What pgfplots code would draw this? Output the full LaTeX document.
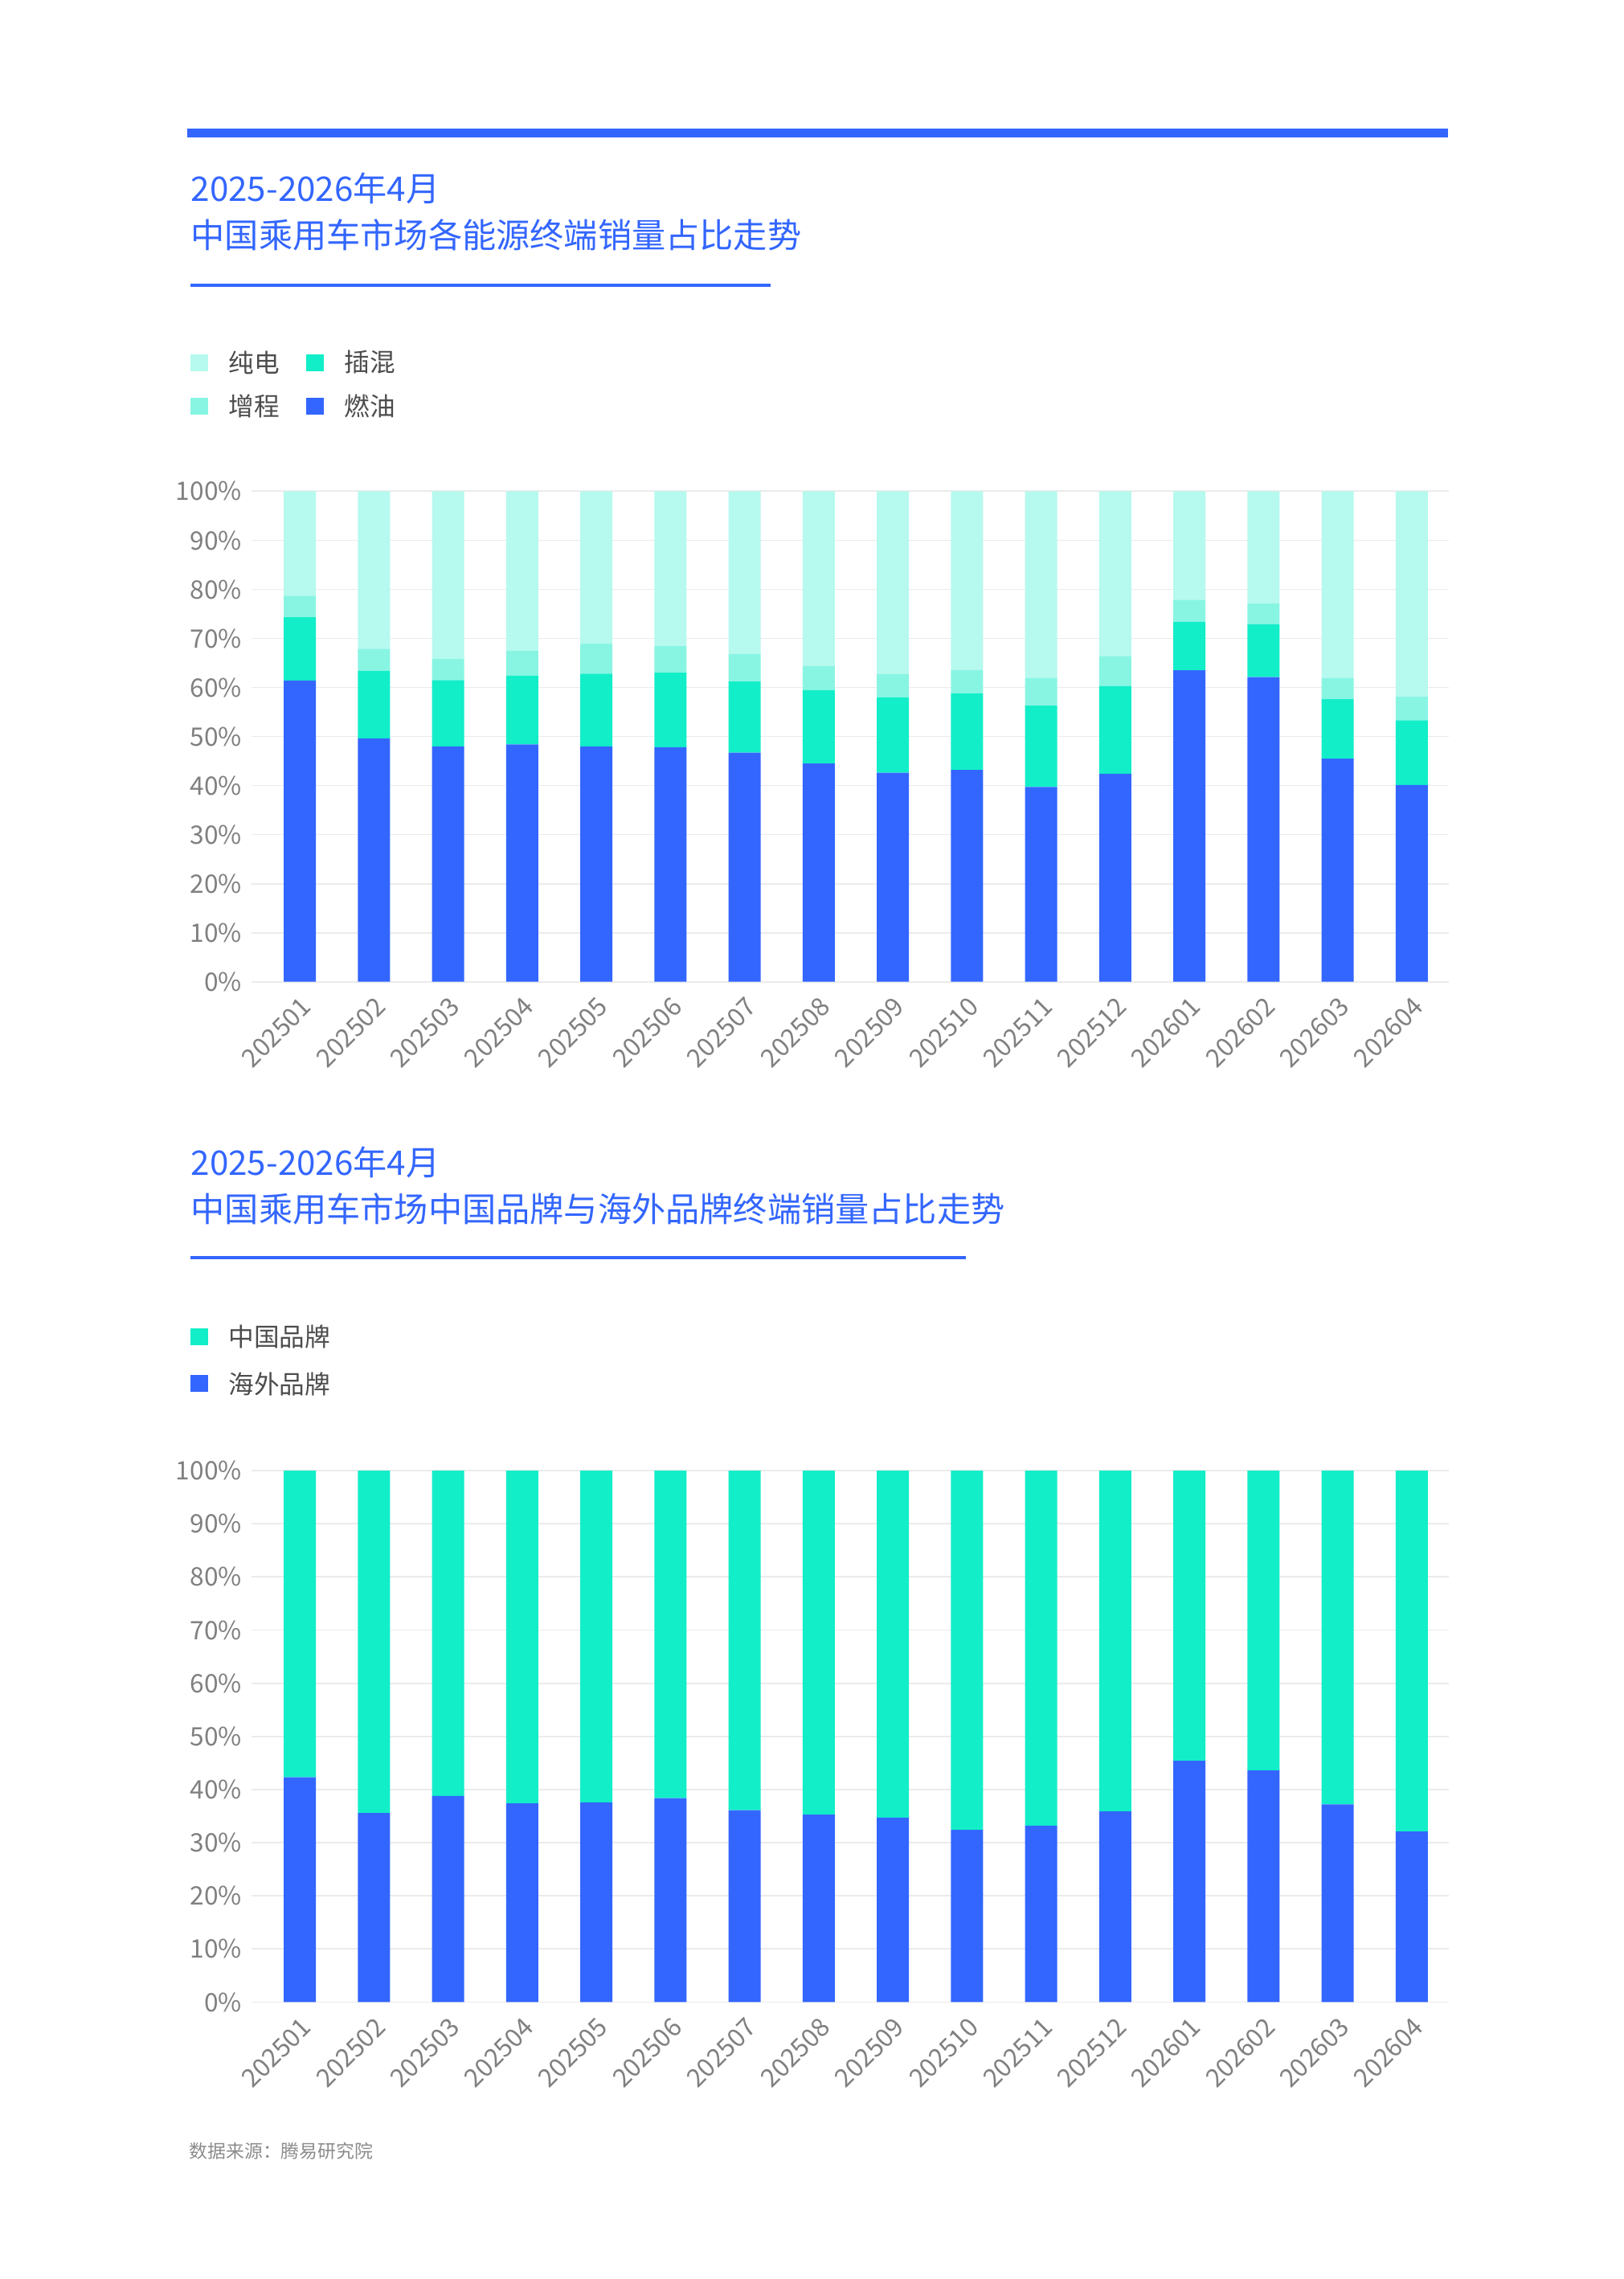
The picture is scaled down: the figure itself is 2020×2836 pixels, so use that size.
\documentclass[border=0pt]{standalone}
\usepackage{pgfplots}
\pgfplotsset{compat=1.18}
\usepackage{fontspec}
\setmainfont{Noto Sans CJK SC}
\definecolor{cblue}{HTML}{3366FF}
\definecolor{cphev}{HTML}{12EEC8}
\definecolor{cerev}{HTML}{88F5E3}
\definecolor{cbev}{HTML}{B6F9EE}
\definecolor{cgray}{HTML}{808080}
\pgfplotsset{
 mybar/.style={
  scale only axis, width=14.89cm, ybar stacked, bar width=0.40cm,
  xmin=-0.65, xmax=15.5, ymin=0, ymax=100,
  ytick={0,10,...,100}, yticklabel={\pgfmathprintnumber{\tick}\%},
  /pgf/number format/assume math mode=true,
  xtick={0,...,15},
  xticklabels={202501,202502,202503,202504,202505,202506,202507,202508,202509,202510,202511,202512,202601,202602,202603,202604},
  x tick label style={rotate=45, anchor=north east, font=\fontsize{9}{10}\selectfont, text=cgray},
  y tick label style={font=\fontsize{9}{10}\selectfont, text=cgray},
  ymajorgrids, grid style={line width=0.5pt, draw=black!8},
  axis line style={draw=none}, major tick length=0pt,
  tick style={draw=none},
  every axis plot/.append style={draw=none},
 }}
\begin{document}
\begin{tikzpicture}[x=0.01cm,y=-0.01cm]
\fill[white] (0,0) rectangle (2020,2836);
\useasboundingbox (0,0) rectangle (2020,2836);
\fill[cblue] (233,160) rectangle (1802,171);
\begin{scope}[every node/.style={inner sep=0pt}]
\node[anchor=base west, text=cblue, font=\fontsize{12}{14}\selectfont] at (237,250) {2025-2026年4月};
\node[anchor=base west, text=cblue, font=\fontsize{12}{14}\selectfont] at (237,308) {中国乘用车市场各能源终端销量占比走势};
\node[anchor=base west, text=cblue, font=\fontsize{12}{14}\selectfont] at (237,1462) {2025-2026年4月};
\node[anchor=base west, text=cblue, font=\fontsize{12}{14}\selectfont] at (237,1520) {中国乘用车市场中国品牌与海外品牌终端销量占比走势};
\node[anchor=base west, text=black!45, font=\fontsize{6.5}{8}\selectfont] at (235,2685) {数据来源：腾易研究院};
\end{scope}
\draw[cblue, line width=1.2pt] (237,355) -- (959,355);
\fill[cbev] (237,441) rectangle (259,462); \node[anchor=west, font=\fontsize{9}{10}\selectfont, text=black!70] at (272,451) {纯电};
\fill[cphev] (381,441) rectangle (403,462); \node[anchor=west, font=\fontsize{9}{10}\selectfont, text=black!70] at (416,451) {插混};
\fill[cerev] (237,495) rectangle (259,516); \node[anchor=west, font=\fontsize{9}{10}\selectfont, text=black!70] at (272,505) {增程};
\fill[cblue] (381,495) rectangle (403,516); \node[anchor=west, font=\fontsize{9}{10}\selectfont, text=black!70] at (416,505) {燃油};
\begin{axis}[mybar, height=6.1cm, at={(3.13cm,-12.21cm)}, anchor=south west]
\addplot[fill=cblue] coordinates {(0,61.4)(1,49.6)(2,48.0)(3,48.4)(4,48.0)(5,47.8)(6,46.7)(7,44.5)(8,42.6)(9,43.2)(10,39.7)(11,42.4)(12,63.5)(13,62.1)(14,45.5)(15,40.1)};
\addplot[fill=cphev] coordinates {(0,12.9)(1,13.8)(2,13.5)(3,14.0)(4,14.8)(5,15.2)(6,14.5)(7,15.0)(8,15.4)(9,15.6)(10,16.6)(11,17.9)(12,9.9)(13,10.8)(14,12.1)(15,13.2)};
\addplot[fill=cerev] coordinates {(0,4.4)(1,4.5)(2,4.3)(3,5.1)(4,6.1)(5,5.4)(6,5.6)(7,4.9)(8,4.7)(9,4.8)(10,5.6)(11,6.1)(12,4.5)(13,4.2)(14,4.3)(15,4.8)};
\addplot[fill=cbev] coordinates {(0,21.3)(1,32.1)(2,34.2)(3,32.5)(4,31.1)(5,31.6)(6,33.2)(7,35.6)(8,37.3)(9,36.4)(10,38.1)(11,33.6)(12,22.1)(13,22.9)(14,38.1)(15,41.9)};
\end{axis}
\draw[cblue, line width=1.2pt] (237,1565) -- (1202,1565);
\fill[cphev] (237,1653) rectangle (259,1674); \node[anchor=west, font=\fontsize{9}{10}\selectfont, text=black!70] at (272,1663) {中国品牌};
\fill[cblue] (237,1711) rectangle (259,1732); \node[anchor=west, font=\fontsize{9}{10}\selectfont, text=black!70] at (272,1722) {海外品牌};
\begin{axis}[mybar, height=6.61cm, at={(3.13cm,-24.90cm)}, anchor=south west]
\addplot[fill=cblue] coordinates {(0,42.3)(1,35.6)(2,38.8)(3,37.4)(4,37.6)(5,38.4)(6,36.1)(7,35.3)(8,34.7)(9,32.4)(10,33.2)(11,35.9)(12,45.4)(13,43.6)(14,37.2)(15,32.1)};
\addplot[fill=cphev] coordinates {(0,57.7)(1,64.4)(2,61.2)(3,62.6)(4,62.4)(5,61.6)(6,63.9)(7,64.7)(8,65.3)(9,67.6)(10,66.8)(11,64.1)(12,54.6)(13,56.4)(14,62.8)(15,67.9)};
\end{axis}
\end{tikzpicture}
\end{document}
